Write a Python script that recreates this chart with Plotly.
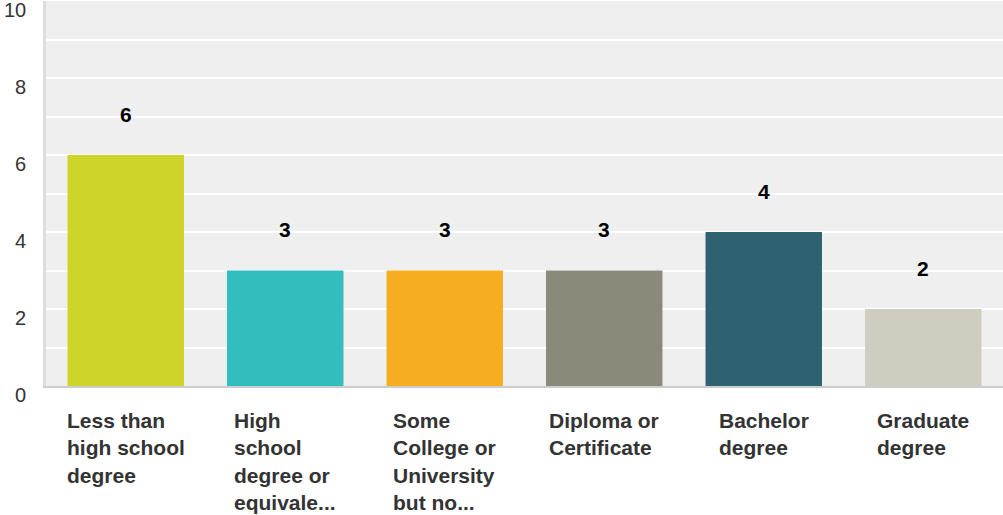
import plotly.graph_objects as go

# survey answers: highest level of education
categories = [
    "Less than high school degree",
    "High school degree or equivalent",
    "Some College or University but no degree",
    "Diploma or Certificate",
    "Bachelor degree",
    "Graduate degree",
]
# wrapped / truncated labels as shown under the bars
labels = [
    "Less than<br>high school<br>degree",
    "High<br>school<br>degree or<br>equivale...",
    "Some<br>College or<br>University<br>but no...",
    "Diploma or<br>Certificate",
    "Bachelor<br>degree",
    "Graduate<br>degree",
]
counts = [6, 3, 3, 3, 4, 2]
colors = ["#cfd42a", "#33bdbf", "#f6ae20", "#8a8a7a", "#2e6270", "#cfcdbf"]
y_ticks = [0, 2, 4, 6, 8, 10]

fig = go.Figure()
fig.add_trace(
    go.Bar(
        x=categories,
        y=counts,
        marker=dict(color=colors, line_width=0),
        hoverinfo="x+y",
    )
)

# value labels above bars
for cat, val in zip(categories, counts):
    fig.add_annotation(
        x=cat, y=val, text="<b>%d</b>" % val, showarrow=False,
        yanchor="middle", yshift=41,
        font=dict(family="Liberation Sans, Arial", size=21, color="#000000"),
    )

# category labels, block centred under bar, lines left aligned
for cat, lab in zip(categories, labels):
    fig.add_annotation(
        x=cat, y=0, text="<b>%s</b>" % lab, showarrow=False,
        xanchor="center", yanchor="top", align="left", yshift=-21,
        font=dict(family="Liberation Sans, Arial", size=21, color="#333333"),
    )

# y tick labels sit a bit below their gridlines
for t in y_ticks:
    fig.add_annotation(
        xref="paper", x=0, y=t, text=str(t), showarrow=False,
        xanchor="right", yanchor="middle", xshift=-18, yshift=-9,
        font=dict(family="Liberation Sans, Arial", size=20, color="#333333"),
    )

fig.update_xaxes(
    showticklabels=False, showgrid=False, zeroline=False,
    showline=True, linecolor="#cccccc", linewidth=2,
)
fig.update_yaxes(
    range=[0, 10], tickvals=list(range(11)), showticklabels=False,
    showgrid=True, gridcolor="#ffffff", gridwidth=2, zeroline=False,
    showline=True, linecolor="#dddddd", linewidth=3,
)
fig.update_layout(
    width=1003, height=515,
    margin=dict(l=46, r=0, t=1, b=129, autoexpand=False),
    plot_bgcolor="#efefef", paper_bgcolor="#ffffff",
    bargap=0.27, showlegend=False,
)

# drop the browser's default body margin so the figure sits at 0,0
fig.write_html(
    "out.html",
    config={"displayModeBar": False},
    post_script="document.body.style.margin='0';",
)
